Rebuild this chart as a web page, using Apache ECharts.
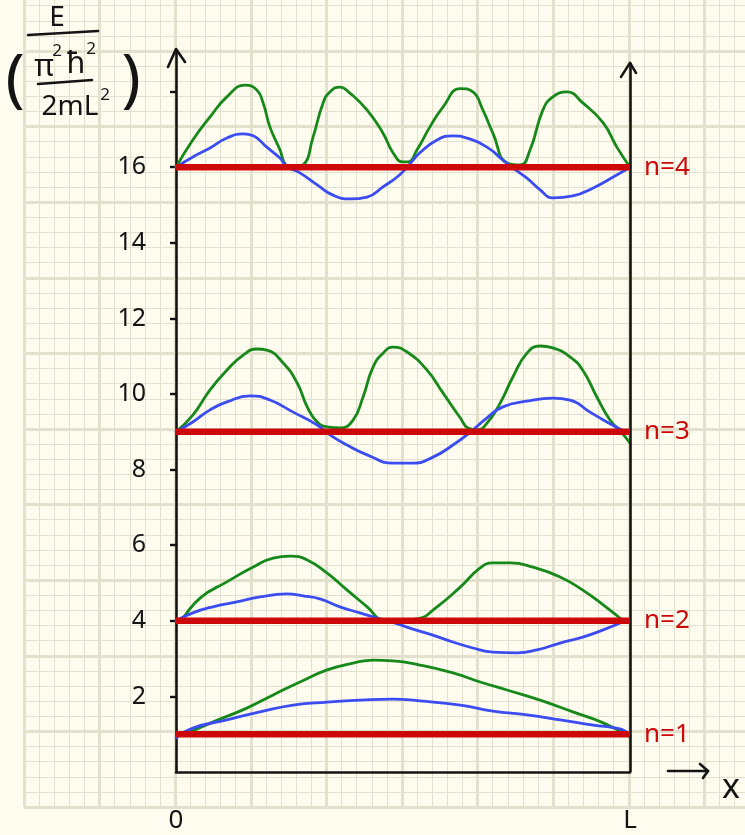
<!DOCTYPE html>
<html>
<head>
<meta charset="utf-8">
<title>Particle in a box: energy levels</title>
<script src="https://cdn.jsdelivr.net/npm/echarts@6/dist/echarts.min.js"></script>
<style>
  html, body { margin: 0; padding: 0; background: #fdfcee; }
  #chart { width: 745px; height: 835px; }
</style>
</head>
<body>
<div id="chart"></div>
<script>
// Energy levels E_n = n^2 (in units of pi^2 hbar^2 / 2mL^2)
const levels = [1, 4, 9, 16];
const levelLabels = ['n=1', 'n=2', 'n=3', 'n=4'];

// Wavefunctions (blue), sketched on top of each level; x in units of L
const psi1 = [[0,0.90],[0.037,1.16],[0.112,1.38],[0.185,1.59],[0.258,1.77],[0.333,1.85],[0.405,1.90],[0.478,1.93],[0.537,1.88],[0.626,1.77],[0.698,1.61],[0.773,1.51],[0.846,1.38],[0.919,1.24],[0.978,1.14],[1.0,0.98]];
const psi2 = [[0,4.0],[0.037,4.21],[0.081,4.37],[0.134,4.50],[0.185,4.63],[0.244,4.71],[0.280,4.66],[0.317,4.58],[0.361,4.37],[0.405,4.21],[0.449,4.05],[0.478,3.96],[0.522,3.78],[0.566,3.62],[0.610,3.44],[0.654,3.28],[0.698,3.17],[0.751,3.15],[0.795,3.23],[0.846,3.41],[0.896,3.57],[0.941,3.76],[0.99,4.0]];
const psi3 = [[0,9.0],[0.037,9.26],[0.075,9.58],[0.112,9.79],[0.163,9.95],[0.207,9.84],[0.258,9.52],[0.311,9.18],[0.339,8.92],[0.377,8.65],[0.421,8.39],[0.478,8.17],[0.522,8.17],[0.566,8.33],[0.610,8.65],[0.648,8.99],[0.685,9.37],[0.720,9.66],[0.773,9.81],[0.830,9.89],[0.868,9.84],[0.912,9.52],[0.949,9.26],[0.99,9.0]];
const psi4 = [[0,16.0],[0.037,16.27],[0.075,16.51],[0.112,16.77],[0.148,16.88],[0.170,16.83],[0.200,16.53],[0.229,16.24],[0.244,16.02],[0.273,15.85],[0.311,15.53],[0.346,15.26],[0.383,15.16],[0.421,15.21],[0.456,15.48],[0.487,15.74],[0.509,16.0],[0.537,16.38],[0.575,16.72],[0.610,16.83],[0.641,16.77],[0.685,16.53],[0.720,16.19],[0.742,15.98],[0.773,15.71],[0.802,15.40],[0.830,15.19],[0.874,15.24],[0.919,15.45],[0.963,15.74],[1.0,16.0]];

// Probability densities (green)
const prob1 = [[0.02,1.0],[0.081,1.32],[0.156,1.69],[0.214,2.04],[0.273,2.38],[0.333,2.70],[0.390,2.88],[0.434,2.96],[0.478,2.94],[0.537,2.83],[0.610,2.62],[0.670,2.38],[0.729,2.17],[0.802,1.90],[0.874,1.59],[0.941,1.30],[1.0,0.93]];
const prob2 = [[0.013,4.0],[0.053,4.60],[0.112,5.03],[0.170,5.42],[0.214,5.66],[0.251,5.71],[0.289,5.61],[0.333,5.26],[0.377,4.81],[0.421,4.37],[0.456,4.02],[0.478,4.0],[0.531,4.05],[0.575,4.37],[0.626,4.89],[0.670,5.40],[0.698,5.53],[0.736,5.53],[0.786,5.42],[0.846,5.16],[0.896,4.81],[0.941,4.42],[0.985,4.0]];
const prob3 = [[0,9.0],[0.037,9.44],[0.075,10.11],[0.112,10.63],[0.148,11.03],[0.178,11.19],[0.200,11.16],[0.236,10.82],[0.267,10.29],[0.289,9.66],[0.311,9.26],[0.333,9.13],[0.361,9.10],[0.390,9.31],[0.412,9.92],[0.434,10.71],[0.456,11.08],[0.478,11.24],[0.509,11.11],[0.553,10.63],[0.588,10.03],[0.626,9.37],[0.643,9.10],[0.663,9.05],[0.685,9.23],[0.714,9.76],[0.742,10.45],[0.773,11.08],[0.802,11.27],[0.830,11.22],[0.868,10.98],[0.896,10.63],[0.927,9.92],[0.956,9.31],[0.982,8.97],[1.0,8.70]];
const prob4 = [[0,16.0],[0.037,16.72],[0.075,17.33],[0.112,17.86],[0.152,18.17],[0.178,18.04],[0.192,17.70],[0.207,17.06],[0.229,16.46],[0.242,16.06],[0.258,16.0],[0.280,16.06],[0.302,16.80],[0.324,17.70],[0.339,17.99],[0.361,18.12],[0.383,17.96],[0.421,17.51],[0.456,16.90],[0.478,16.38],[0.500,16.14],[0.511,16.14],[0.531,16.46],[0.559,17.06],[0.588,17.59],[0.626,18.08],[0.654,17.99],[0.676,17.51],[0.698,16.90],[0.729,16.11],[0.758,16.06],[0.780,16.46],[0.808,17.51],[0.830,17.86],[0.861,17.99],[0.896,17.70],[0.941,17.17],[0.971,16.53],[1.0,16.0]];

const psiSets = [psi1, psi2, psi3, psi4];
const probSets = [prob1, prob2, prob3, prob4];

// Axis ticks and labels
const yTickValues = [2, 4, 6, 8, 10, 12, 14, 16, 18];
const yLabelValues = [2, 4, 6, 8, 10, 12, 14, 16];
const xLabelValues = [0, 1];
const xLabelText = ['0', 'L'];

const FONT = 'Noto Sans';
const INK = '#141414';
const RED = '#cc0808';
const BLUE = '#3a4cf2';
const GREEN = '#16891a';

const chart = echarts.init(document.getElementById('chart'), null, { renderer: 'canvas' });

// graph-paper background: major squares every 75.6 px, 5 minor divisions each
const SQ = 75.6;
const paperAxis = (max) => ({
  type: 'value', min: 0, max: max, interval: 1,
  axisLine: { show: false }, axisTick: { show: false }, axisLabel: { show: false },
  splitLine: { show: true, showMinLine: true, showMaxLine: false, lineStyle: { color: '#e4e0ce', width: 3 } },
  minorTick: { show: false, splitNumber: 5 },
  minorSplitLine: { show: true, lineStyle: { color: '#e3e0d0', width: 1 } },
  silent: true
});

const series = [];
for (let i = 0; i < levels.length; i++) {
  series.push({
    type: 'line', xAxisIndex: 1, yAxisIndex: 1, data: probSets[i],
    smooth: 0.5, symbol: 'none', silent: true, z: 3,
    lineStyle: { color: GREEN, width: 2.8, cap: 'round', join: 'round' }
  });
  series.push({
    type: 'line', xAxisIndex: 1, yAxisIndex: 1, data: psiSets[i],
    smooth: 0.5, symbol: 'none', silent: true, z: 4,
    lineStyle: { color: BLUE, width: 2.8, cap: 'round', join: 'round' }
  });
}
levels.forEach((E, i) => {
  series.push({
    type: 'line', xAxisIndex: 1, yAxisIndex: 1,
    data: [[0, E], [1, E]], symbol: 'none', silent: true, z: 6,
    lineStyle: { color: RED, width: 6.5 },
    endLabel: {
      show: true, formatter: levelLabels[i], color: RED,
      fontFamily: FONT, fontSize: 26, distance: 14
    }
  });
});

// right wall of the box
series.push({
  type: 'line', xAxisIndex: 1, yAxisIndex: 1, data: [], symbol: 'none', silent: true, z: 5,
  markLine: {
    silent: true, symbol: ['none', 'none'], animation: false,
    label: { show: false },
    lineStyle: { color: INK, width: 2.6, type: 'solid' },
    data: [[{ coord: [1, 0] }, { coord: [1, 18.76] }]]
  }
});

chart.setOption({
  animation: false,
  backgroundColor: '#fdfcee',
  grid: [
    { left: 24, top: 807 - 11 * SQ, width: 10 * SQ, height: 11 * SQ, outerBoundsMode: 'none' },
    { left: 176, top: 50, width: 454, height: 722, outerBoundsMode: 'none' }
  ],
  xAxis: [
    Object.assign({ gridIndex: 0 }, paperAxis(10)),
    {
      gridIndex: 1, type: 'value', min: 0, max: 1,
      axisLine: { show: true, onZero: false, lineStyle: { color: INK, width: 2.6 } },
      axisTick: { show: false },
      splitLine: { show: false },
      axisLabel: {
        customValues: xLabelValues,
        formatter: (v) => xLabelText[xLabelValues.indexOf(v)],
        margin: 36, fontSize: 26, color: INK, fontFamily: FONT
      }
    }
  ],
  yAxis: [
    Object.assign({ gridIndex: 0 }, paperAxis(11)),
    {
      gridIndex: 1, type: 'value', min: 0, max: 19.1,
      axisLine: { show: true, onZero: false, lineStyle: { color: INK, width: 2.6 } },
      axisTick: { show: true, customValues: yTickValues, length: 6, lineStyle: { color: INK, width: 2.4 } },
      splitLine: { show: false },
      axisLabel: { customValues: yLabelValues, margin: 30, fontSize: 25, color: INK, fontFamily: FONT }
    }
  ],
  series: series
});

// arrow heads and titles
const tipL = chart.convertToPixel({ gridIndex: 1 }, [0, 19.1]);
const tipR = chart.convertToPixel({ gridIndex: 1 }, [1, 18.76]);
const corner = chart.convertToPixel({ gridIndex: 1 }, [1, 0]);
const stroke = { stroke: INK, lineWidth: 2.6, lineCap: 'round', lineJoin: 'round', fill: null };
const txt = (x, y, text, size, family) => ({
  type: 'text', x: x, y: y, silent: true,
  style: { text: text, fill: INK, font: size + 'px "' + (family || FONT) + '"', textAlign: 'center', textVerticalAlign: 'middle' }
});

chart.setOption({
  graphic: [
    { type: 'polyline', silent: true, shape: { points: [[tipL[0] - 8, tipL[1] + 17], [tipL[0], tipL[1] - 1], [tipL[0] + 9, tipL[1] + 12]] }, style: stroke },
    { type: 'polyline', silent: true, shape: { points: [[tipR[0] - 9, tipR[1] + 14], [tipR[0], tipR[1]], [tipR[0] + 6, tipR[1] + 10]] }, style: stroke },
    { type: 'line', silent: true, shape: { x1: corner[0] + 38, y1: corner[1] - 1, x2: corner[0] + 78, y2: corner[1] - 1 }, style: stroke },
    { type: 'polyline', silent: true, shape: { points: [[corner[0] + 70, corner[1] - 8], [corner[0] + 78, corner[1] - 1], [corner[0] + 73, corner[1] + 6]] }, style: stroke },
    txt(corner[0] + 101, corner[1] + 16, 'x', 34),
    // E / (pi^2 hbar^2 / 2 m L^2)
    txt(57, 18, 'E', 28),
    { type: 'line', silent: true, shape: { x1: 28, y1: 35, x2: 98, y2: 31 }, style: stroke },
    txt(15, 82, '(', 64),
    txt(44, 67, 'π', 30),
    txt(57, 51, '2', 17),
    txt(76, 65, 'ħ', 30, 'DejaVu Sans'),
    txt(91, 49, '2', 17),
    { type: 'line', silent: true, shape: { x1: 38, y1: 84, x2: 92, y2: 80 }, style: stroke },
    txt(70, 107, '2mL', 28),
    txt(105, 95, '2', 17),
    txt(131, 82, ')', 64)
  ]
});
</script>
</body>
</html>
